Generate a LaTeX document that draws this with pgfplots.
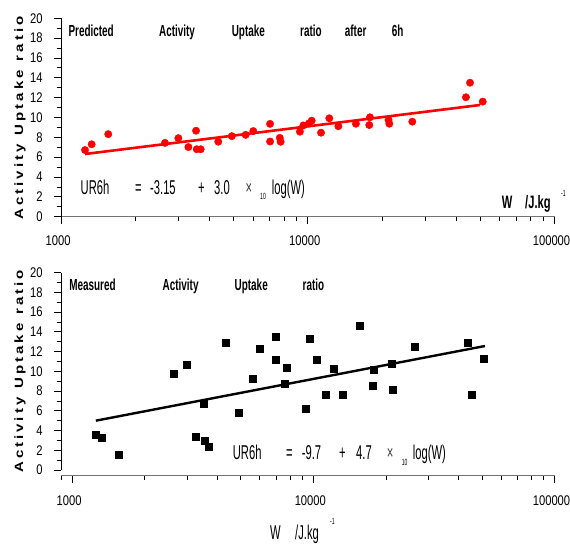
\documentclass[border=0pt]{standalone}
\usepackage{fontspec}
\usepackage{pgfplots}
\pgfplotsset{compat=1.18}
\setmainfont{Liberation Sans}
\newfontfamily\tickf[FakeStretch=0.8]{Liberation Sans}
\newfontfamily\narf[FakeStretch=0.56]{Liberation Sans}
\newfontfamily\titf[FakeStretch=0.62]{Liberation Sans}
\newfontfamily\ylabf[LetterSpace=20]{Liberation Sans}

\pgfplotstableread{
W UR
1250 6.72
1330 7.30
1553 8.32
2636 7.44
2987 7.92
3281 7.02
3524 8.67
3546 6.80
3680 6.80
4336 7.56
4920 8.12
5600 8.25
6012 8.63
7031 9.36
7031 7.58
7700 7.95
7760 7.55
9290 8.57
9590 9.20
10100 9.40
10370 9.68
11310 8.47
12220 9.92
13300 9.12
15670 9.37
17750 9.24
17860 10.02
21250 9.75
21400 9.37
26520 9.58
43750 12.04
45450 13.51
51170 11.60
}\predicted

\pgfplotstableread{
W UR
1254 3.62
1327 3.27
1556 1.52
2628 9.80
2986 10.71
3263 3.38
3522 6.69
3532 2.94
3668 2.36
4330 12.94
4886 5.81
5584 9.22
6007 12.27
6998 13.55
6998 11.15
7621 8.79
7735 10.39
9340 6.18
9680 13.35
10315 11.22
11270 7.60
12200 10.24
13300 7.60
15590 14.58
17810 10.14
17700 8.52
21220 10.75
21420 8.11
26340 12.50
43800 12.88
45220 7.60
51010 11.28
}\measured

\pgfkeys{/pgf/number format/assume math mode=true}

\begin{document}
\begin{tikzpicture}
\useasboundingbox (0pt,0pt) rectangle (570pt,546pt);

% ---------- top ----------
\begin{axis}[
  at={(61.1pt,329.3pt)}, anchor=south west,
  scale only axis, width=493.4pt, height=198.4pt,
  xmode=log, xmin=1000, xmax=100000,
  ymin=0, ymax=20,
  axis x line=bottom, axis y line=left,
  axis line style={-},
  x axis line style={draw=black!55, line width=1.2pt},
  y axis line style={draw=black, line width=0.9pt},
  ytick={0,2,...,20}, minor ytick={1,3,...,19},
  xtick={1000,10000,100000}, xticklabels={1000,10000,100000},
  minor xtick={2000,3000,4000,5000,6000,7000,8000,9000,20000,30000,40000,50000,60000,70000,80000,90000},
  tick align=outside,
  major tick length=7pt, minor tick length=4.5pt,
  tick style={black, line width=0.8pt},
  ticklabel style={font=\tickf\fontsize{14}{14}\selectfont},
  xticklabel style={yshift=-8pt, xshift=-3pt},
  yticklabel style={xshift=-8pt},
  clip=false]
\addplot[only marks, mark=*, mark size=3.7pt, mark options={draw=red, fill=red}] table[x=W, y=UR] {\predicted};
\addplot[red, line width=2.6pt] coordinates {(1250,6.32) (49890,11.26)};
\end{axis}

% ---------- bottom ----------
\begin{axis}[
  at={(61.1pt,76pt)}, anchor=south west,
  scale only axis, width=493.4pt, height=197.3pt,
  xmode=log, xmin=900, xmax=100000,
  ymin=0, ymax=20,
  axis x line=bottom, axis y line=left,
  axis x line shift=5.7pt,
  axis line style={-},
  x axis line style={draw=black!55, line width=1.2pt},
  y axis line style={draw=black, line width=0.9pt},
  ytick={0,2,...,20}, minor ytick={1,3,...,19},
  xtick={1000,10000,100000}, xticklabels={1000,10000,100000},
  minor xtick={900,2000,3000,4000,5000,6000,7000,8000,9000,20000,30000,40000,50000,60000,70000,80000,90000},
  tick align=outside,
  major tick length=7pt, minor tick length=4.5pt,
  tick style={black, line width=0.8pt},
  ticklabel style={font=\tickf\fontsize{14}{14}\selectfont},
  xticklabel style={yshift=-9pt, xshift=-3pt},
  yticklabel style={xshift=-8pt},
  clip=false]
\addplot[only marks, mark=square*, mark size=3.5pt, mark options={draw=black, fill=black}] table[x=W, y=UR] {\measured};
\addplot[black, line width=2.4pt] coordinates {(1254,5.0) (51500,12.57)};
\end{axis}

\begin{scope}[x=1pt,y=1pt]
% y labels
\node[rotate=90, inner sep=0] at (20,428) {\scalebox{1}[0.8]{\ylabf\bfseries\fontsize{15}{15}\selectfont Activity\hspace{9pt}Uptake\hspace{9pt}ratio}};
\node[rotate=90, inner sep=0] at (20,174.6) {\scalebox{1}[0.8]{\ylabf\bfseries\fontsize{15}{15}\selectfont Activity\hspace{9pt}Uptake\hspace{9pt}ratio}};

% titles
\begin{scope}[every node/.style={anchor=base west, inner sep=0, font=\titf\bfseries\fontsize{16}{16}\selectfont}]
\node at (68.4,509.5) {Predicted};
\node at (158.9,509.5) {Activity};
\node at (231.6,509.5) {Uptake};
\node at (300,509.5) {ratio};
\node at (344.7,509.5) {after};
\node at (391.6,509.5) {6h};
\node at (69.1,255) {Measured};
\node at (162.5,255) {Activity};
\node at (234.5,255) {Uptake};
\node at (302.5,255) {ratio};
\end{scope}

% formulas
\begin{scope}[every node/.style={anchor=base west, inner sep=0, font=\narf\fontsize{20}{20}\selectfont}]
\node at (80.5,351) {UR6h};
\node at (135,351) {=};
\node at (150,351) {-3.15};
\node at (198,351) {+};
\node at (214,351) {3.0};
\node[text=black!75] at (245.5,351) {×};
\node[font=\narf\fontsize{9}{9}\selectfont] at (260,346) {10};
\node at (271.7,351) {log(W)};
\node at (232.7,86) {UR6h};
\node at (286,86) {=};
\node at (301.7,86) {-9.7};
\node at (339,86) {+};
\node at (356,86) {4.7};
\node[text=black!75] at (386.7,86) {×};
\node[font=\narf\fontsize{9}{9}\selectfont] at (401.7,80) {10};
\node at (412.7,86) {log(W)};
% bottom x label
\node at (270,7) {W};
\node at (295,7) {/J.kg};
\node[font=\narf\fontsize{9}{9}\selectfont] at (330,21) {-1};
\end{scope}

% top-right x label
\begin{scope}[every node/.style={anchor=base west, inner sep=0, font=\titf\bfseries\fontsize{18}{18}\selectfont}]
\node at (501.7,337.7) {W};
\node at (525,337.7) {/J.kg};
\node[font=\narf\fontsize{9}{9}\selectfont] at (561,349) {-1};
\end{scope}
\end{scope}
\end{tikzpicture}
\end{document}
